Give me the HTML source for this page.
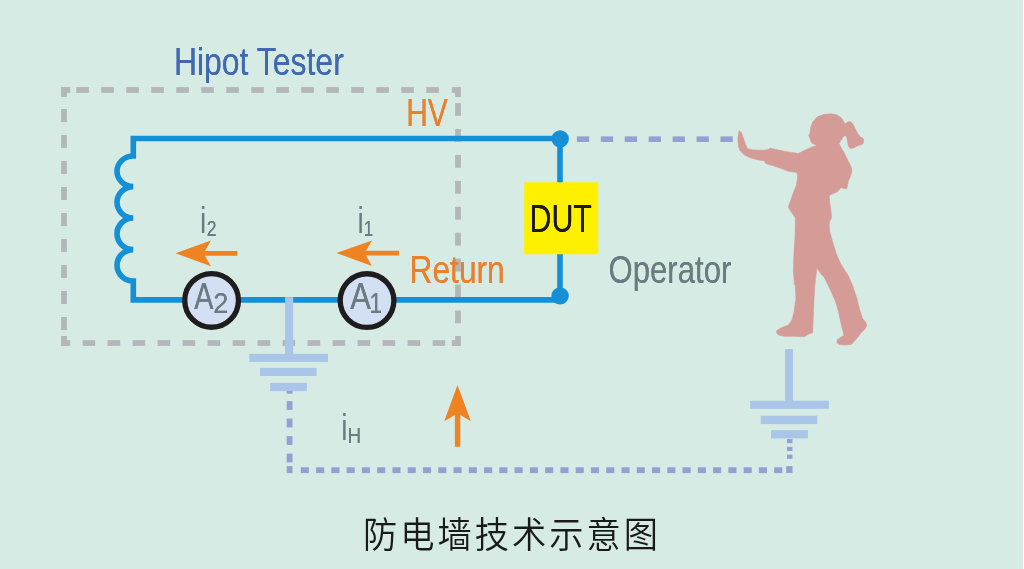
<!DOCTYPE html>
<html lang="zh">
<head>
<meta charset="utf-8">
<title>防电墙技术示意图</title>
<style>
html,body{margin:0;padding:0;background:#d7ebe5;overflow:hidden}
svg{display:block}
text{font-family:"Liberation Sans","Noto Sans CJK SC",sans-serif}
.cjk{font-family:"Liberation Sans","Noto Sans CJK SC",sans-serif;font-weight:350}
</style>
</head>
<body>
<svg width="1024" height="569" viewBox="0 0 1024 569">
<defs>
<filter id="thick" filterUnits="userSpaceOnUse" x="0" y="0" width="1024" height="569" color-interpolation-filters="sRGB">
<feOffset in="SourceGraphic" dx="0.4" dy="0" result="o"/>
<feMerge><feMergeNode in="SourceGraphic"/><feMergeNode in="o"/></feMerge>
</filter>
<filter id="aa" filterUnits="userSpaceOnUse" x="0" y="0" width="1024" height="569" color-interpolation-filters="sRGB">
<feOffset in="SourceGraphic" dx="0" dy="0"/>
</filter>
</defs>
<rect width="1024" height="569" fill="#d7ebe5"/>
<rect x="1022" y="0" width="1" height="569" fill="#dde6e1"/>
<rect x="1023" y="0" width="1" height="569" fill="#fbfdfc"/>

<!-- tester dashed box -->
<g fill="#b3b7b9"><rect x="61.10" y="87.10" width="9.10" height="5.80"/><rect x="61.10" y="87.10" width="5.80" height="9.90"/><rect x="451.80" y="87.10" width="9.10" height="5.80"/><rect x="455.10" y="87.10" width="5.80" height="9.90"/><rect x="61.10" y="340.10" width="9.10" height="5.80"/><rect x="61.10" y="336.00" width="5.80" height="9.90"/><rect x="451.80" y="340.10" width="9.10" height="5.80"/><rect x="455.10" y="336.00" width="5.80" height="9.90"/><rect x="76.25" y="87.10" width="12.60" height="5.80"/><rect x="101.25" y="87.10" width="12.60" height="5.80"/><rect x="126.25" y="87.10" width="12.60" height="5.80"/><rect x="151.25" y="87.10" width="12.60" height="5.80"/><rect x="176.25" y="87.10" width="12.60" height="5.80"/><rect x="201.25" y="87.10" width="12.60" height="5.80"/><rect x="226.25" y="87.10" width="12.60" height="5.80"/><rect x="251.25" y="87.10" width="12.60" height="5.80"/><rect x="276.25" y="87.10" width="12.60" height="5.80"/><rect x="301.25" y="87.10" width="12.60" height="5.80"/><rect x="326.25" y="87.10" width="12.60" height="5.80"/><rect x="351.25" y="87.10" width="12.60" height="5.80"/><rect x="376.25" y="87.10" width="12.60" height="5.80"/><rect x="401.25" y="87.10" width="12.60" height="5.80"/><rect x="426.25" y="87.10" width="12.60" height="5.80"/><rect x="82.60" y="340.10" width="12.60" height="5.80"/><rect x="107.60" y="340.10" width="12.60" height="5.80"/><rect x="132.60" y="340.10" width="12.60" height="5.80"/><rect x="157.60" y="340.10" width="12.60" height="5.80"/><rect x="182.60" y="340.10" width="12.60" height="5.80"/><rect x="207.60" y="340.10" width="12.60" height="5.80"/><rect x="232.60" y="340.10" width="12.60" height="5.80"/><rect x="257.60" y="340.10" width="12.60" height="5.80"/><rect x="282.60" y="340.10" width="12.60" height="5.80"/><rect x="307.60" y="340.10" width="12.60" height="5.80"/><rect x="332.60" y="340.10" width="12.60" height="5.80"/><rect x="357.60" y="340.10" width="12.60" height="5.80"/><rect x="382.60" y="340.10" width="12.60" height="5.80"/><rect x="407.60" y="340.10" width="12.60" height="5.80"/><rect x="432.60" y="340.10" width="12.60" height="5.80"/><rect x="61.10" y="109.00" width="5.80" height="13.00"/><rect x="61.10" y="135.00" width="5.80" height="13.00"/><rect x="61.10" y="161.00" width="5.80" height="13.00"/><rect x="61.10" y="187.00" width="5.80" height="13.00"/><rect x="61.10" y="213.00" width="5.80" height="13.00"/><rect x="61.10" y="239.00" width="5.80" height="13.00"/><rect x="61.10" y="265.00" width="5.80" height="13.00"/><rect x="61.10" y="291.00" width="5.80" height="13.00"/><rect x="61.10" y="317.00" width="5.80" height="13.00"/><rect x="455.10" y="103.10" width="5.80" height="12.80"/><rect x="455.10" y="129.03" width="5.80" height="12.80"/><rect x="455.10" y="154.96" width="5.80" height="12.80"/><rect x="455.10" y="180.89" width="5.80" height="12.80"/><rect x="455.10" y="206.82" width="5.80" height="12.80"/><rect x="455.10" y="232.75" width="5.80" height="12.80"/><rect x="455.10" y="258.68" width="5.80" height="12.80"/><rect x="455.10" y="284.61" width="5.80" height="12.80"/><rect x="455.10" y="310.54" width="5.80" height="12.80"/></g>

<!-- circuit -->
<path d="M560 138.45 H133.3 V156 a16.3 15.3 0 0 0 0 30.6 a16.3 15.7 0 0 0 0 31.4 a16.3 15.8 0 0 0 0 31.6 a16.3 15.7 0 0 0 0 31.4 V299.9 H560 Z" fill="none" stroke="#1590d6" stroke-width="5.6" stroke-linejoin="miter"/>
<circle cx="560.2" cy="138.9" r="8.7" fill="#1590d6"/>
<circle cx="560.1" cy="295.9" r="8.7" fill="#1590d6"/>
<rect x="524.2" y="182.3" width="74" height="72" fill="#fff000"/>
<g filter="url(#thick)" transform="translate(-0.2 0)"><text transform="translate(529.67 231.5) scale(0.798 1)" font-size="38.1" fill="#1d1a16">DUT</text></g>

<!-- ground 1 -->
<g fill="#a9c5e7">
<rect x="285.1" y="297.2" width="8.1" height="58"/>
<rect x="249.3" y="353.8" width="78.7" height="8.1"/>
<rect x="260" y="367.9" width="56.6" height="8.1"/>
<rect x="270.2" y="382.8" width="36.7" height="8.3"/>
</g>
<!-- ground 2 -->
<g fill="#a9c5e7">
<rect x="785.1" y="349.1" width="7.8" height="53"/>
<rect x="750.2" y="400.7" width="78.6" height="8.1"/>
<rect x="760.7" y="415.7" width="56.6" height="8.4"/>
<rect x="771.1" y="430.2" width="36.8" height="8.2"/>
</g>

<!-- dotted leak path -->
<g fill="#969fd1"><rect x="286.70" y="401.10" width="5.80" height="8.80"/><rect x="286.70" y="418.60" width="5.80" height="8.80"/><rect x="286.70" y="436.10" width="5.80" height="8.80"/><rect x="286.70" y="453.60" width="5.80" height="8.80"/><rect x="286.7" y="391" width="5.8" height="2.7"/><rect x="286.7" y="466.1" width="5.8" height="7"/><rect x="300.80" y="467.30" width="8.10" height="5.80"/><rect x="316.07" y="467.30" width="8.10" height="5.80"/><rect x="331.34" y="467.30" width="8.10" height="5.80"/><rect x="346.61" y="467.30" width="8.10" height="5.80"/><rect x="361.88" y="467.30" width="8.10" height="5.80"/><rect x="377.15" y="467.30" width="8.10" height="5.80"/><rect x="392.42" y="467.30" width="8.10" height="5.80"/><rect x="407.69" y="467.30" width="8.10" height="5.80"/><rect x="422.96" y="467.30" width="8.10" height="5.80"/><rect x="438.23" y="467.30" width="8.10" height="5.80"/><rect x="453.50" y="467.30" width="8.10" height="5.80"/><rect x="468.77" y="467.30" width="8.10" height="5.80"/><rect x="484.04" y="467.30" width="8.10" height="5.80"/><rect x="499.31" y="467.30" width="8.10" height="5.80"/><rect x="514.58" y="467.30" width="8.10" height="5.80"/><rect x="529.85" y="467.30" width="8.10" height="5.80"/><rect x="545.12" y="467.30" width="8.10" height="5.80"/><rect x="560.39" y="467.30" width="8.10" height="5.80"/><rect x="575.66" y="467.30" width="8.10" height="5.80"/><rect x="590.93" y="467.30" width="8.10" height="5.80"/><rect x="606.20" y="467.30" width="8.10" height="5.80"/><rect x="621.47" y="467.30" width="8.10" height="5.80"/><rect x="636.74" y="467.30" width="8.10" height="5.80"/><rect x="652.01" y="467.30" width="8.10" height="5.80"/><rect x="667.28" y="467.30" width="8.10" height="5.80"/><rect x="682.55" y="467.30" width="8.10" height="5.80"/><rect x="697.82" y="467.30" width="8.10" height="5.80"/><rect x="713.09" y="467.30" width="8.10" height="5.80"/><rect x="728.36" y="467.30" width="8.10" height="5.80"/><rect x="743.63" y="467.30" width="8.10" height="5.80"/><rect x="758.90" y="467.30" width="8.10" height="5.80"/><rect x="774.17" y="467.30" width="8.10" height="5.80"/><rect x="786.2" y="466.1" width="6.3" height="6.9"/><rect x="786.95" y="439.00" width="5.50" height="4.20"/><rect x="786.95" y="446.80" width="5.50" height="4.20"/><rect x="786.95" y="454.60" width="5.50" height="4.20"/><rect x="576.90" y="136.40" width="12.30" height="5.60"/><rect x="600.83" y="136.40" width="12.30" height="5.60"/><rect x="624.76" y="136.40" width="12.30" height="5.60"/><rect x="648.69" y="136.40" width="12.30" height="5.60"/><rect x="672.62" y="136.40" width="12.30" height="5.60"/><rect x="696.55" y="136.40" width="12.30" height="5.60"/><rect x="720.48" y="136.40" width="12.30" height="5.60"/></g>

<!-- meters -->
<circle cx="211.6" cy="300.4" r="26.85" fill="#d3e0f3" stroke="#1e1c1d" stroke-width="5.3"/>
<circle cx="367.05" cy="300.6" r="26.85" fill="#d3e0f3" stroke="#1e1c1d" stroke-width="5.3"/>
<g fill="#6c7b81" filter="url(#thick)" transform="translate(-0.2 0)">
<text transform="translate(194.46 309.2) scale(0.773 1)" font-size="37.2">A</text>
<text transform="translate(213.54 313.3) scale(0.926 1)" font-size="29.4">2</text>
<text transform="translate(350.35 309.2) scale(0.821 1)" font-size="37.6">A</text>
<text transform="translate(369.6 313.2) scale(0.75 1)" font-size="30.2">1</text>
<text transform="translate(206.95 236.1) scale(0.79 1)" font-size="22.2">2</text>
<text transform="translate(364.0 236) scale(0.75 1)" font-size="22.4">1</text>
<text transform="translate(347.8 442.9) scale(0.886 1)" font-size="21.2">H</text>
<text transform="translate(608.8 283.1) scale(0.812 1)" font-size="38.3">Operator</text>
</g>

<g fill="#6c7b81" filter="url(#aa)">
<text transform="translate(199.9 233) scale(0.76 1)" font-size="37.2">i</text>
<text transform="translate(357.45 233) scale(0.76 1)" font-size="37.2">i</text>
<text transform="translate(341.2 439.8) scale(0.76 1)" font-size="37">i</text>
</g>

<!-- arrows -->
<g fill="#ef8322">
<path d="M237.4 251 H205 L211 240.4 L175.5 253.35 L211 266.3 L205 255.7 H237.4 Z"/>
<path d="M399 250.7 H366 L372 240.4 L336.4 253.1 L372 266 L366 255.5 H399 Z"/>
<path d="M454.9 446.8 V415 L444.2 421.3 L457.5 385 L470.9 421.3 L460.3 415 V446.8 Z"/>
</g>
<g fill="#e9802b" filter="url(#thick)" transform="translate(-0.2 0)">
<text transform="translate(406.36 125.9) scale(0.761 1)" font-size="39.3">HV</text>
<text transform="translate(409.76 283.1) scale(0.826 1)" font-size="38.4">Return</text>
</g>
<g filter="url(#thick)" transform="translate(-0.2 0)"><text transform="translate(174.1 74.7) scale(0.843 1)" font-size="37.9" fill="#4069b1">Hipot Tester</text></g>

<!-- operator -->
<path fill="#d59b97" stroke="#d59b97" stroke-width="0.6" stroke-linejoin="round" d="M739.3 130.4 L741.4 132.8 L743.5 138.5 L745.7 144.9 L747.8 148.8 L752.8 149.9 L762.8 150.2 L767.8 149.6 L770.6 148.1 L772.8 148.8 L784.2 151.3 L798.4 153.5 L804.1 150.6 L811.3 147.4 L816.3 145.6 L815.5 144.5 L812.0 143.5 L810.6 140.7 L809.8 137.8 L808.7 135.7 L810.1 132.8 L810.6 127.8 L812.7 122.1 L817.0 117.1 L824.1 114.3 L831.2 113.8 L836.9 115.0 L841.2 117.8 L844.1 122.1 L844.8 124.3 L847.6 122.1 L850.5 121.7 L852.6 123.5 L854.8 127.8 L857.6 133.5 L860.5 137.1 L863.3 138.5 L863.7 141.4 L862.6 144.2 L858.3 145.6 L854.0 147.8 L850.5 148.5 L848.3 146.4 L847.6 142.1 L846.9 137.8 L845.5 135.4 L843.3 136.4 L841.2 139.9 L839.1 143.5 L840.5 146.4 L844.1 152.8 L848.3 161.3 L851.2 167.0 L851.9 171.3 L850.5 176.3 L848.3 181.3 L846.9 188.6 L844.1 188.8 L841.2 187.4 L836.9 192.1 L831.2 194.3 L829.1 195.7 L829.8 202.8 L830.9 209.9 L831.5 217.8 L829.8 221.3 L829.1 224.2 L829.8 232.1 L832.7 242.1 L836.2 253.5 L840.5 263.5 L848.3 275.7 L852.6 285.7 L856.9 298.5 L859.7 309.9 L862.6 318.5 L865.4 322.0 L866.9 324.9 L865.4 328.5 L861.2 332.7 L855.5 339.9 L851.2 344.4 L844.1 345.1 L839.1 344.4 L836.9 342.7 L837.2 339.9 L839.8 337.7 L844.1 335.6 L842.6 329.9 L840.5 321.3 L838.4 311.3 L835.5 301.4 L829.8 288.5 L824.1 277.1 L821.2 274.2 L817.0 267.8 L815.5 279.2 L814.7 287.1 L814.1 298.5 L813.4 312.8 L813.0 324.2 L812.7 332.7 L808.4 334.2 L804.1 336.7 L794.2 336.3 L784.2 336.3 L778.5 334.9 L776.3 332.7 L776.8 330.6 L781.3 327.7 L788.5 324.9 L792.0 319.9 L794.2 311.3 L795.9 298.5 L795.3 284.3 L794.4 284.9 L793.4 270.6 L793.9 253.5 L794.9 239.3 L795.3 227.1 L795.3 217.8 L791.3 212.1 L788.2 207.1 L791.3 198.5 L794.9 188.6 L796.3 185.6 L797.7 177.0 L797.0 172.4 L788.5 171.3 L781.3 168.5 L772.8 165.6 L765.6 163.5 L764.9 161.0 L758.5 159.9 L750.0 157.8 L744.3 154.9 L740.0 150.6 L738.6 147.1 L737.8 138.5 Z"/>

<g filter="url(#aa)"><text class="cjk" transform="translate(362.9 547.9) scale(1 1.06)" font-size="34.2" letter-spacing="3.06" fill="#1a1a1a">防电墙技术示意图</text></g>
</svg>
</body>
</html>
